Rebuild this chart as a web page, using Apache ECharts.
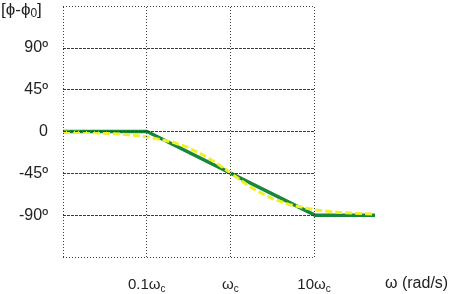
<!DOCTYPE html>
<html><head><meta charset="utf-8">
<script src="https://cdn.jsdelivr.net/npm/echarts@6/dist/echarts.min.js"></script>
<style>html,body{margin:0;padding:0;background:#fff}#c{width:451px;height:294px}</style>
</head><body><div id="c"></div>
<script>
// Frequencies in units of ωc
var asymFreq = [0.01, 0.1, 10, 52];
var asymPhase = [0, 0, -90, -90];
var exactFreq = [0.01, 0.02, 0.05, 0.1, 0.2, 0.3, 0.5, 0.7, 1, 1.5, 2, 3, 5, 10, 20, 52];
var exactPhase = [-0.6, -1.1, -2.9, -5.7, -11.3, -16.7, -26.6, -35, -45, -56.3, -63.4, -71.6, -78.7, -84.3, -87.1, -88.9];
var yTicks = [90, 45, 0, -45, -90];
var yTickLabels = ['90º', '45º', '0', '-45º', '-90º'];
var xTicks = [0.1, 1, 10];
var xTickLabels = ['0.1ω{s|c}', 'ω{s|c}', '10ω{s|c}'];

var font = 'Liberation Sans, Arial, sans-serif';
var gridColor = '#3a3a3a';

function pairs(xs, ys){ return xs.map(function(x,i){ return [x, ys[i]]; }); }

var hLines = [135, 90, 45, 0, -45, -90, -135].map(function(v){
  var edge = (v === 135 || v === -135);
  return {yAxis: v, lineStyle: {color: gridColor, width: 1, type: edge ? [1,2] : [3,1]}};
});
var vLines = [0.01, 0.1, 1, 10].map(function(v){
  return {xAxis: v, lineStyle: {color: gridColor, width: 1, type: [1,2]}};
});

var chart = echarts.init(document.getElementById('c'));
chart.setOption({
  animation: false,
  grid: [
    {left: 63, top: 6, width: 251, height: 251},
    {left: 63, top: 6, width: 312, height: 251}
  ],
  xAxis: [
    {type: 'log', gridIndex: 0, min: 0.01, max: 10, logBase: 10,
     axisLine: {show: false}, axisTick: {show: false}, splitLine: {show: false},
     axisLabel: {
       margin: 19, fontFamily: font, fontSize: 15, color: '#222',
       formatter: function(v){
         var i = xTicks.findIndex(function(t){ return Math.abs(t - v) < 1e-9 * Math.max(1, t); });
         return i >= 0 ? xTickLabels[i] : '';
       },
       rich: {s: {fontSize: 10, fontFamily: font, color: '#222', padding: [8, 0, 0, 0]}}
     }},
    {type: 'log', gridIndex: 1, min: 0.01, max: 52, logBase: 10, show: false}
  ],
  yAxis: [
    {type: 'value', gridIndex: 0, min: -135, max: 135, interval: 45,
     axisLine: {show: false}, axisTick: {show: false}, splitLine: {show: false},
     axisLabel: {
       margin: 15, fontFamily: font, fontSize: 16, color: '#222',
       formatter: function(v){
         var i = yTicks.indexOf(v);
         return i >= 0 ? yTickLabels[i] : '';
       }
     }},
    {type: 'value', gridIndex: 1, min: -135, max: 135, show: false}
  ],
  graphic: [
    {type: 'text', left: 1, top: 2, style: {
      text: '[ϕ-ϕ{s|0}]', font: '17px ' + font, fill: '#222',
      rich: {s: {fontSize: 12, fontFamily: font, fill: '#222', padding: [6, 0, 0, 0]}}
    }},
    {type: 'text', left: 385, top: 276, style: {
      text: 'ω (rad/s)', font: '16px ' + font, fill: '#222'
    }}
  ],
  series: [
    {type: 'line', xAxisIndex: 0, yAxisIndex: 0, data: [], silent: true,
     markLine: {silent: true, symbol: 'none', label: {show: false}, animation: false,
       data: hLines.concat(vLines)}},
    {type: 'line', xAxisIndex: 1, yAxisIndex: 1, data: pairs(asymFreq, asymPhase),
     showSymbol: false, lineStyle: {color: '#17883a', width: 3.5}, z: 3},
    {type: 'line', xAxisIndex: 1, yAxisIndex: 1, data: pairs(exactFreq, exactPhase),
     showSymbol: false, smooth: false, lineStyle: {color: '#f2ee2a', width: 3, type: [7, 3]}, z: 4}
  ]
});
</script></body></html>
